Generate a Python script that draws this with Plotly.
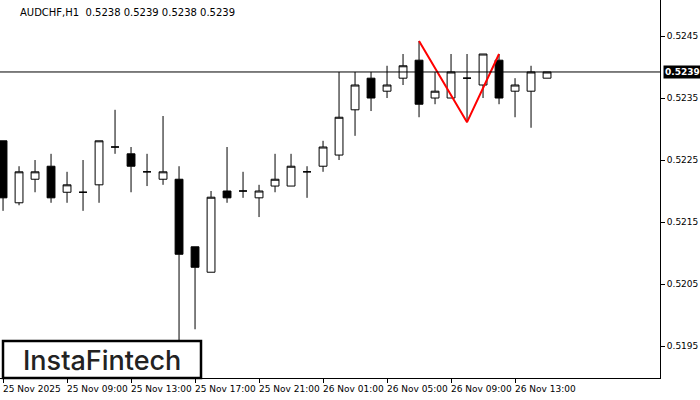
import plotly.graph_objects as go

opens = [0.52281,0.52181,0.52219,0.52240,0.52198,0.52198,0.52210,0.52271,0.52260,0.52231,
         0.52219,0.52219,0.52110,0.52069,0.52200,0.52200,0.52189,0.52208,0.52208,0.52231,
         0.52240,0.52258,0.52331,0.52382,0.52361,0.52382,0.52411,0.52350,0.52350,0.52382,
         0.52371,0.52411,0.52361,0.52361,0.52382]
highs = [0.52281,0.52240,0.52250,0.52260,0.52231,0.52250,0.52281,0.52331,0.52271,0.52260,
         0.52321,0.52240,0.52110,0.52200,0.52271,0.52231,0.52210,0.52260,0.52260,0.52240,
         0.52281,0.52392,0.52392,0.52392,0.52402,0.52421,0.52442,0.52392,0.52421,0.52421,
         0.52421,0.52421,0.52382,0.52402,0.52392]
lows = [0.52168,0.52177,0.52198,0.52181,0.52181,0.52168,0.52181,0.52260,0.52198,0.52208,
        0.52210,0.51952,0.51977,0.52069,0.52181,0.52189,0.52158,0.52198,0.52208,0.52189,
        0.52231,0.52250,0.52289,0.52329,0.52350,0.52371,0.52319,0.52340,0.52350,0.52311,
        0.52350,0.52340,0.52319,0.52302,0.52382]
closes = [0.52189,0.52231,0.52231,0.52189,0.52210,0.52198,0.52281,0.52271,0.52240,0.52231,
          0.52231,0.52098,0.52077,0.52190,0.52189,0.52200,0.52200,0.52219,0.52240,0.52231,
          0.52271,0.52319,0.52371,0.52350,0.52371,0.52402,0.52340,0.52361,0.52392,0.52382,
          0.52421,0.52350,0.52371,0.52392,0.52392]
tick_idx = [0, 4, 8, 12, 16, 20, 24, 28, 32]
tick_labels = ["25 Nov 2025", "25 Nov 09:00", "25 Nov 13:00", "25 Nov 17:00", "25 Nov 21:00",
               "26 Nov 01:00", "26 Nov 05:00", "26 Nov 09:00", "26 Nov 13:00"]
price_ticks = [0.5195, 0.5205, 0.5215, 0.5225, 0.5235, 0.5245]
pattern_x = [26, 29, 31]
pattern_y = [0.52442, 0.52311, 0.52421]
current = 0.52392

x = list(range(len(opens)))
fig = go.Figure()
fig.add_trace(go.Candlestick(
    x=x, open=opens, high=highs, low=lows, close=closes,
    increasing=dict(fillcolor="white", line=dict(color="black", width=1)),
    decreasing=dict(fillcolor="black", line=dict(color="black", width=1)),
    whiskerwidth=0, showlegend=False, hoverinfo="skip"))
fig.add_trace(go.Scatter(x=pattern_x, y=pattern_y, mode="lines",
                         line=dict(color="#ff0000", width=2), showlegend=False, hoverinfo="skip"))
fig.add_hline(y=current, line=dict(color="black", width=1))

fig.update_layout(
    width=700, height=400, margin=dict(l=0, r=40, t=0, b=22, autoexpand=False),
    paper_bgcolor="white", plot_bgcolor="white",
    font=dict(family="DejaVu Sans", size=10, color="black"),
    xaxis=dict(range=[-0.19, 41.06], rangeslider=dict(visible=False), showgrid=False,
               tickmode="array", tickvals=tick_idx, ticktext=[""] * len(tick_idx),
               ticks="outside", ticklen=4, tickcolor="black", automargin=False,
               showline=True, linecolor="black", mirror=True, zeroline=False),
    yaxis=dict(range=[0.518984, 0.525081], side="right", showgrid=False, automargin=False,
               tickmode="array", tickvals=price_ticks, ticktext=[f"{v:.4f}" for v in price_ticks],
               ticks="outside", ticklen=4, tickcolor="black",
               showline=True, linecolor="black", mirror=True, zeroline=False,
               tickfont=dict(size=9)),
)
for i, lab in zip(tick_idx, tick_labels):
    fig.add_annotation(xref="x", yref="paper", x=i, y=-4/378, text=lab, showarrow=False,
                       xanchor="left", yanchor="top", xshift=-2, font=dict(size=9))
fig.add_annotation(xref="paper", yref="paper", x=18/660, y=1 - 12/378, text="AUDCHF,H1  0.5238 0.5239 0.5238 0.5239",
                   showarrow=False, xanchor="left", yanchor="middle", font=dict(size=10))
fig.add_annotation(xref="paper", yref="y", x=1.005, y=current, text="<b>0.5239</b>", showarrow=False,
                   xanchor="left", yanchor="middle", bgcolor="black", font=dict(color="white", size=9),
                   borderpad=1)
fig.add_shape(type="rect", xref="paper", yref="paper", x0=3/660, x1=201/660, y0=0, y1=37/378,
              line=dict(color="black", width=2.5), fillcolor="white")
fig.add_annotation(xref="paper", yref="paper", x=102/660, y=18/378, text="InstaFintech", showarrow=False,
                   font=dict(family="Inter", size=27, color="#222", weight=500), xanchor="center", yanchor="middle")
fig.write_html("out.html", config={"displayModeBar": False},
               post_script="document.body.style.margin='0';document.body.style.overflow='hidden';")
